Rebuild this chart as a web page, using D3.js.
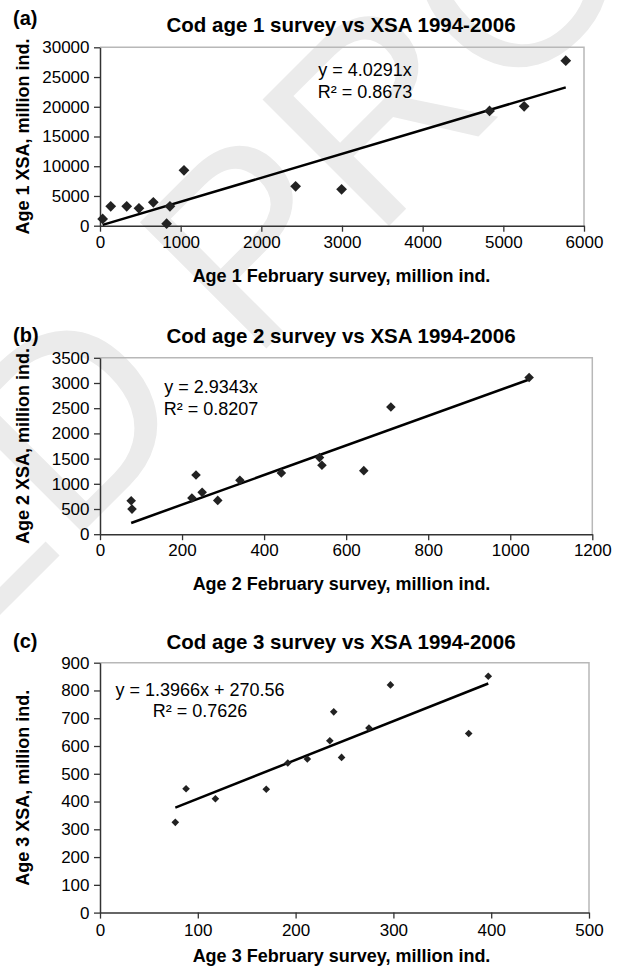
<!DOCTYPE html>
<html>
<head>
<meta charset="utf-8">
<script src="https://cdn.jsdelivr.net/npm/d3@7"></script>
<style>
body { margin: 0; background: #fff; }
text { font-family: "Liberation Sans", Arial, sans-serif; }
</style>
</head>
<body>
<script>
// values (survey index vs XSA, million ind.)
var age1Survey = [33, 133, 331, 483, 661, 826, 867, 1041, 2425, 2995, 4829, 5258, 5774];
var age1XSA = [1130, 3260, 3260, 2920, 3930, 340, 3260, 9310, 6620, 6120, 19290, 20080, 27750];

var age2Survey = [76, 78, 224, 234, 249, 287, 341, 442, 535, 541, 643, 709, 1046];
var age2XSA = [663, 498, 717, 1175, 830, 671, 1070, 1215, 1520, 1368, 1261, 2525, 3110];

var age3Survey = [77, 88, 118, 170, 192, 212, 235, 239, 247, 275, 297, 377, 397];
var age3XSA = [325, 446, 410, 444, 539, 553, 619, 723, 559, 665, 820, 645, 851];

// trendlines as printed on the charts
var trendSlope = [4.0291, 2.9343, 1.3966];
var trendIntercept = [0, 0, 270.56];
var trendEquation = ["y = 4.0291x", "y = 2.9343x", "y = 1.3966x + 270.56"];
var trendR2 = ["R\u00b2 = 0.8673", "R\u00b2 = 0.8207", "R\u00b2 = 0.7626"];

var xTicks1 = [0, 1000, 2000, 3000, 4000, 5000, 6000];
var yTicks1 = [0, 5000, 10000, 15000, 20000, 25000, 30000];
var xTicks2 = [0, 200, 400, 600, 800, 1000, 1200];
var yTicks2 = [0, 500, 1000, 1500, 2000, 2500, 3000, 3500];
var xTicks3 = [0, 100, 200, 300, 400, 500];
var yTicks3 = [0, 100, 200, 300, 400, 500, 600, 700, 800, 900];

var panelLabels = ["(a)", "(b)", "(c)"];
var titles = ["Cod age 1 survey vs XSA 1994-2006", "Cod age 2 survey vs XSA 1994-2006", "Cod age 3 survey vs XSA 1994-2006"];
var xTitles = ["Age 1 February survey, million ind.", "Age 2 February survey, million ind.", "Age 3 February survey, million ind."];
var yTitles = ["Age 1 XSA, million ind.", "Age 2 XSA, million ind.", "Age 3 XSA, million ind."];

var svg = d3.select("body").append("svg")
    .attr("width", 622)
    .attr("height", 966);

// faint proof watermark behind everything
svg.append("text")
    .text("ED PROOF")
    .attr("text-anchor", "end")
    .attr("transform", "translate(905,-290) rotate(-45)")
    .attr("font-size", "260px")
    .attr("fill", "#ebebeb");

// layout of each panel (pixels)
var panels = [
    { xs: age1Survey, ys: age1XSA, xTicks: xTicks1, yTicks: yTicks1,
      left: 100, right: 584, top: 47.3, bottom: 225.7,
      labelY: 25, titleY: 31.7, tickPad: 4, xTitleGap: 56, marker: 58,
      eqX: 365, eqY: 76, eqGap: 22.3 },
    { xs: age2Survey, ys: age2XSA, xTicks: xTicks2, yTicks: yTicks2,
      left: 100, right: 592.3, top: 357.8, bottom: 534.2,
      labelY: 342, titleY: 343, tickPad: 4, xTitleGap: 56, marker: 46,
      eqX: 211, eqY: 393.3, eqGap: 21.7 },
    { xs: age3Survey, ys: age3XSA, xTicks: xTicks3, yTicks: yTicks3,
      left: 100, right: 589, top: 662.7, bottom: 912.6,
      labelY: 648, titleY: 648.5, tickPad: 5, xTitleGap: 49.5, marker: 29,
      eqX: 200, eqY: 696, eqGap: 20.7 }
];

panels.forEach(function (p, i) {
    var g = svg.append("g");

    var xScale = d3.scaleLinear()
        .domain([0, d3.max(p.xTicks)])
        .range([p.left, p.right]);

    var yScale = d3.scaleLinear()
        .domain([0, d3.max(p.yTicks)])
        .range([p.bottom, p.top]);

    // light grey top and right border of the plot area
    g.append("path")
        .attr("d", "M" + p.left + "," + p.top + "H" + p.right + "V" + p.bottom)
        .attr("fill", "none")
        .attr("stroke", "#b8b8b8")
        .attr("stroke-width", 1.5);

    var yAxis = g.append("g")
        .attr("transform", "translate(" + p.left + ",0)")
        .call(d3.axisLeft(yScale).tickValues(p.yTicks).tickSize(6).tickSizeOuter(0).tickPadding(4.5).tickFormat(d3.format("d")));

    var xAxis = g.append("g")
        .attr("transform", "translate(0," + p.bottom + ")")
        .call(d3.axisBottom(xScale).tickValues(p.xTicks).tickSize(6).tickSizeOuter(0).tickPadding(p.tickPad).tickFormat(d3.format("d")));

    [yAxis, xAxis].forEach(function (ax) {
        ax.select(".domain").attr("stroke", "#333").attr("stroke-width", 1.5);
        ax.selectAll(".tick line").attr("stroke", "#333").attr("stroke-width", 1.3);
        ax.selectAll(".tick text")
            .attr("font-family", "Liberation Sans, Arial, sans-serif")
            .attr("font-size", "17px")
            .attr("fill", "#000");
    });

    // trendline over the range of the data
    var x0 = d3.min(p.xs);
    var x1 = d3.max(p.xs);
    g.append("line")
        .attr("x1", xScale(x0))
        .attr("y1", yScale(trendSlope[i] * x0 + trendIntercept[i]))
        .attr("x2", xScale(x1))
        .attr("y2", yScale(trendSlope[i] * x1 + trendIntercept[i]))
        .attr("stroke", "#000")
        .attr("stroke-width", 2.5);

    // diamond markers
    g.selectAll("path.pt")
        .data(p.xs)
        .enter()
        .append("path")
        .attr("class", "pt")
        .attr("d", d3.symbol().type(d3.symbolSquare).size(p.marker))
        .attr("transform", function (d, j) {
            return "translate(" + xScale(d) + "," + yScale(p.ys[j]) + ") rotate(45)";
        })
        .attr("fill", "#222");

    // equation and R squared
    g.append("text")
        .text(trendEquation[i])
        .attr("x", p.eqX)
        .attr("y", p.eqY)
        .attr("text-anchor", "middle")
        .attr("font-size", "18px");

    g.append("text")
        .text(trendR2[i])
        .attr("x", p.eqX)
        .attr("y", p.eqY + p.eqGap)
        .attr("text-anchor", "middle")
        .attr("font-size", "18px");

    // panel letter and title
    g.append("text")
        .text(panelLabels[i])
        .attr("x", 13)
        .attr("y", p.labelY)
        .attr("font-size", "20px")
        .attr("font-weight", "bold");

    g.append("text")
        .text(titles[i])
        .attr("x", 341)
        .attr("y", p.titleY)
        .attr("text-anchor", "middle")
        .attr("font-size", "20.5px")
        .attr("font-weight", "bold");

    // axis titles
    g.append("text")
        .text(xTitles[i])
        .attr("x", 341.5)
        .attr("y", p.bottom + p.xTitleGap)
        .attr("text-anchor", "middle")
        .attr("font-size", "18px")
        .attr("font-weight", "bold");

    g.append("text")
        .text(yTitles[i])
        .attr("transform", "translate(28.5," + (p.top + p.bottom) / 2 + ") rotate(-90)")
        .attr("text-anchor", "middle")
        .attr("font-size", "18px")
        .attr("font-weight", "bold");
});
</script>
</body>
</html>
